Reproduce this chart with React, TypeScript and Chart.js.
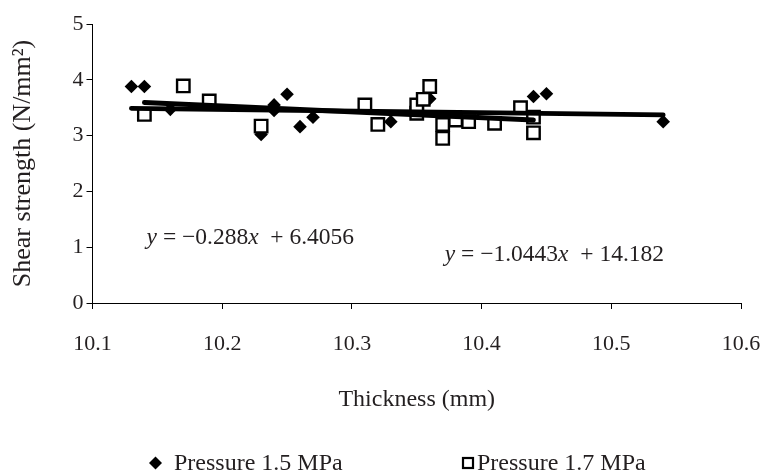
import React, { useEffect, useRef } from "react";
import { Chart, registerables } from "chart.js";

Chart.register(...registerables);

// Pressure 1.5 MPa (diamonds)
const thickness15 = [10.13, 10.14, 10.16, 10.23, 10.24, 10.24, 10.25, 10.26, 10.27, 10.33, 10.36, 10.44, 10.45, 10.54];
const strength15 = [3.88, 3.88, 3.47, 3.02, 3.45, 3.55, 3.74, 3.16, 3.33, 3.25, 3.66, 3.7, 3.75, 3.25];

// Pressure 1.7 MPa (squares)
const thickness17 = [10.14, 10.17, 10.19, 10.23, 10.31, 10.32, 10.35, 10.35, 10.355, 10.36, 10.37, 10.37, 10.38, 10.39, 10.41, 10.43, 10.44, 10.44];
const strength17 = [3.38, 3.89, 3.62, 3.17, 3.55, 3.2, 3.4, 3.55, 3.65, 3.88, 3.2, 2.95, 3.28, 3.25, 3.22, 3.5, 3.33, 3.05];

// Linear trend lines (from the chart's equations)
const slope15 = -0.288;
const intercept15 = 6.4056;
const slope17 = -1.0443;
const intercept17 = 14.182;

const seriesLabels = ["Pressure 1.5 MPa", "Pressure 1.7 MPa"];
const xTickValues = [10.1, 10.2, 10.3, 10.4, 10.5, 10.6];
const yTickValues = [0, 1, 2, 3, 4, 5];

// Equation label anchors (data coordinates)
const eqAnchors = [
  { x: 10.1417, y: 1.165, slope: "\u22120.288", intercept: "6.4056" },
  { x: 10.3716, y: 0.86, slope: "\u22121.0443", intercept: "14.182" },
];

const FONT = "'Liberation Serif', 'Times New Roman', serif";
const INK = "#231f20";

function points(xs: number[], ys: number[]) {
  return xs.map((x, i) => ({ x, y: ys[i] }));
}

function trend(xs: number[], m: number, b: number) {
  const lo = Math.min(...xs);
  const hi = Math.max(...xs);
  return [
    { x: lo, y: m * lo + b },
    { x: hi, y: m * hi + b },
  ];
}

const equationPlugin = {
  id: "equations",
  afterDatasetsDraw(chart: any) {
    const { ctx, scales } = chart;
    ctx.save();
    ctx.fillStyle = INK;
    ctx.textBaseline = "middle";
    ctx.textAlign = "left";
    eqAnchors.forEach((a) => {
      let px = scales.x.getPixelForValue(a.x);
      const py = scales.y.getPixelForValue(a.y);
      const parts: [string, boolean][] = [
        ["y", true],
        [" = " + a.slope, false],
        ["x", true],
        ["  + " + a.intercept, false],
      ];
      parts.forEach(([t, it]) => {
        ctx.font = (it ? "italic " : "") + "23.5px " + FONT;
        ctx.fillText(t, px, py);
        px += ctx.measureText(t).width;
      });
    });
    ctx.restore();
  },
};

const legendPlugin = {
  id: "customLegend",
  afterDraw(chart: any) {
    const { ctx } = chart;
    const y = 463;
    ctx.save();
    ctx.font = "24px " + FONT;
    ctx.textBaseline = "middle";
    ctx.textAlign = "left";
    // item 1: diamond
    const d1 = chart.data.datasets[2];
    ctx.fillStyle = d1.pointBackgroundColor;
    ctx.beginPath();
    ctx.moveTo(155.5 - 6.5, y);
    ctx.lineTo(155.5, y - 6.5);
    ctx.lineTo(155.5 + 6.5, y);
    ctx.lineTo(155.5, y + 6.5);
    ctx.closePath();
    ctx.fill();
    ctx.fillStyle = INK;
    ctx.fillText(d1.label, 174, y + 1);
    // item 2: square
    const d2 = chart.data.datasets[3];
    ctx.fillStyle = d2.pointBackgroundColor;
    ctx.strokeStyle = d2.pointBorderColor;
    ctx.lineWidth = 2.2;
    ctx.fillRect(463, y - 5, 10, 10);
    ctx.strokeRect(463, y - 5, 10, 10);
    ctx.fillStyle = INK;
    ctx.fillText(d2.label, 477, y + 1);
    ctx.restore();
  },
};

export default function App() {
  const ref = useRef<HTMLCanvasElement | null>(null);

  useEffect(() => {
    document.body.style.margin = "0";
    const canvas = ref.current;
    if (!canvas) return;
    const chart = new Chart(canvas, {
      type: "scatter",
      data: {
        datasets: [
          {
            type: "line",
            label: "Trend 1.5 MPa",
            data: trend(thickness15, slope15, intercept15),
            borderColor: "#000",
            borderWidth: 4.8,
            borderCapStyle: "round",
            pointRadius: 0,
            showLine: true,
            fill: false,
            order: 0,
          } as any,
          {
            type: "line",
            label: "Trend 1.7 MPa",
            data: trend(thickness17, slope17, intercept17),
            borderColor: "#000",
            borderWidth: 4.8,
            borderCapStyle: "round",
            pointRadius: 0,
            showLine: true,
            fill: false,
            order: 0,
          } as any,
          {
            label: seriesLabels[0],
            data: points(thickness15, strength15),
            pointStyle: "rectRot",
            pointRadius: 6.8,
            pointBackgroundColor: "#000",
            pointBorderColor: "#000",
            pointBorderWidth: 0,
            order: 2,
          },
          {
            label: seriesLabels[1],
            data: points(thickness17, strength17),
            pointStyle: "rect",
            pointRadius: 8.8,
            pointBackgroundColor: "#fff",
            pointBorderColor: "#000",
            pointBorderWidth: 2.4,
            order: 1,
          },
        ],
      },
      options: {
        animation: false,
        responsive: false,
        maintainAspectRatio: false,
        layout: { padding: { left: 0, right: 22, top: 24, bottom: 57.6 } },
        plugins: {
          legend: { display: false },
          tooltip: { enabled: false },
        },
        scales: {
          x: {
            type: "linear",
            min: xTickValues[0],
            max: xTickValues[xTickValues.length - 1],
            afterBuildTicks: (scale: any) => {
              scale.ticks = xTickValues.map((v) => ({ value: v }));
            },
            afterFit: (scale: any) => {
              scale.height = 111.4;
              scale.paddingLeft = 0;
              scale.paddingRight = 0;
            },
            ticks: {
              color: INK,
              font: { family: FONT, size: 22 },
              padding: 22,
              maxRotation: 0,
              callback: (v: any) => Number(v).toFixed(1),
            },
            grid: { drawOnChartArea: false, drawTicks: true, tickLength: 6, color: "#000", lineWidth: 1 },
            border: { display: true, color: "#000", width: 1 },
            title: {
              display: true,
              text: "Thickness (mm)",
              color: INK,
              font: { family: FONT, size: 24 },
              padding: { top: 0, bottom: 0 },
            },
          },
          y: {
            type: "linear",
            min: yTickValues[0],
            max: yTickValues[yTickValues.length - 1],
            afterBuildTicks: (scale: any) => {
              scale.ticks = yTickValues.map((v) => ({ value: v }));
            },
            afterFit: (scale: any) => {
              scale.width = 92.5;
            },
            ticks: {
              color: INK,
              font: { family: FONT, size: 22 },
              padding: 3,
            },
            grid: { drawOnChartArea: false, drawTicks: true, tickLength: 6, color: "#000", lineWidth: 1 },
            border: { display: true, color: "#000", width: 1 },
            title: {
              display: true,
              text: "Shear strength (N/mm\u00b2)",
              color: INK,
              font: { family: FONT, size: 26 },
              padding: { top: 8, bottom: 0 },
            },
          },
        },
      },
      plugins: [equationPlugin, legendPlugin],
    });
    return () => chart.destroy();
  }, []);

  return (
    <div style={{ width: 763, height: 472, background: "#fff" }}>
      <canvas ref={ref} width={763} height={472} />
    </div>
  );
}
